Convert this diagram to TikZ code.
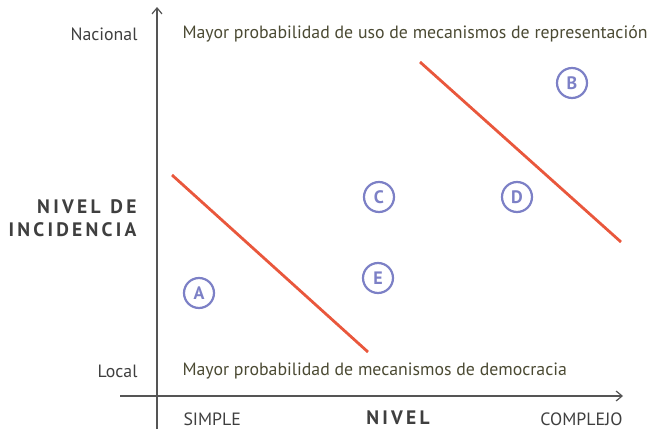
\documentclass[tikz,border=0pt]{standalone}
\usepackage{fontspec}
\setmainfont{PT Sans}
\usetikzlibrary{arrows.meta}
\definecolor{axisgray}{HTML}{555555}
\definecolor{olive}{HTML}{4B4A33}
\definecolor{redline}{HTML}{E9573C}
\definecolor{lav}{HTML}{7C80C6}
\definecolor{labgray}{HTML}{3F3F3F}
\tikzset{
  axis/.style={draw=axisgray, line width=1.6pt, -{Straight Barb[length=6pt,width=10pt,line width=1.2pt]}},
  sep/.style={draw=redline, line width=2.8pt},
  letter/.style={circle, draw=lav, line width=2.2pt, text=lav, minimum size=30pt, inner sep=0pt, font=\fontsize{18}{18}\selectfont\bfseries},
  ticklab/.style={text=labgray, font=\fontsize{17.8}{17.8}\selectfont},
  note/.style={text=olive, anchor=west, font=\fontsize{17.8}{17.8}\selectfont},
  big/.style={text=labgray, font=\fontsize{19.5}{23}\selectfont\bfseries, align=right},
}
\begin{document}
\begin{tikzpicture}[x=1pt,y=-1pt]
\useasboundingbox (0,0) rectangle (648,431);
\coordinate (vb) at (157,429);
\coordinate (vt) at (157,7);
\coordinate (hl) at (120,396);
\coordinate (hr) at (623,396);
\draw[axis] (vb) -- (vt);
\draw[axis] (hl) -- (hr);
\node[ticklab, anchor=east] (nac) at (141,34) {Nacional};
\node[ticklab, anchor=east] (loc) at (141,371) {Local};
\node[note] (n1) at (179,34) {Mayor probabilidad de uso de mecanismos de representación};
\node[note] (n2) at (179,371) {Mayor probabilidad de mecanismos de democracia};
\node[ticklab, anchor=west] (simple) at (180,419) {SIMPLE};
\node[ticklab, anchor=east] (compl) at (626,419) {COMPLEJO};
\node[big] (nivel) at (398,418) {N\,I\,V\,E\,L};
\node[big, anchor=east] (inc) at (140,218) {N\,I\,V\,E\,L\ \ D\,E\\I\,N\,C\,I\,D\,E\,N\,C\,I\,A};
\coordinate (r1a) at (172,175);
\coordinate (r1b) at (368,352);
\coordinate (r2a) at (420,62);
\coordinate (r2b) at (621,242);
\draw[sep] (r1a) -- (r1b);
\draw[sep] (r2a) -- (r2b);
\node[letter] (A) at (199,293) {A};
\node[letter] (B) at (572,83) {B};
\node[letter] (C) at (379,197) {C};
\node[letter] (D) at (517,197) {D};
\node[letter] (E) at (378,278) {E};
\end{tikzpicture}
\end{document}
